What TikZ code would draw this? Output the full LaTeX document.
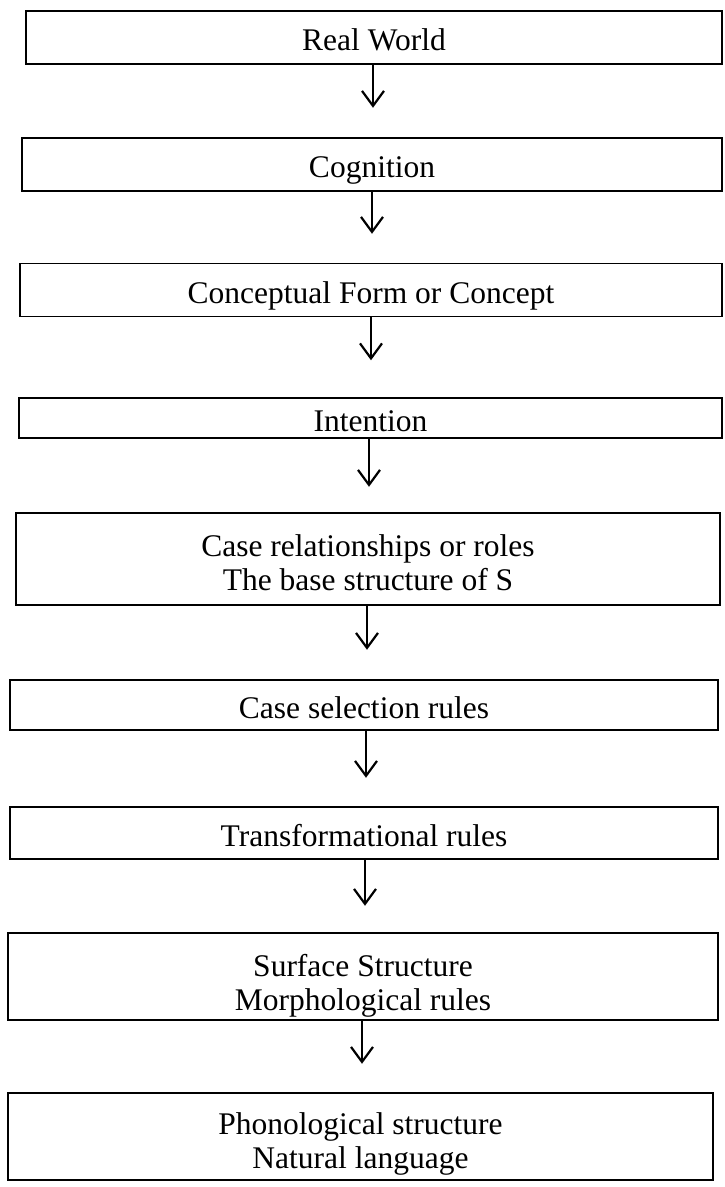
\documentclass[tikz,border=0pt]{standalone}
\usepackage{fontspec}
\setmainfont{Liberation Serif}
\usetikzlibrary{arrows.meta}
\newcommand{\topstrut}[1]{\rule{0pt}{#1}}
\tikzset{
  flowbox/.style={draw=black, line width=1.5pt, inner sep=0pt, align=center,
    font=\fontsize{31.5}{34}\selectfont, text depth=0pt},
  oneline/.style={flowbox, text height=26pt},
  flowarrow/.style={line width=2.2pt, -{Straight Barb[length=15pt,width=22pt,line width=2.2pt]}}
}
\begin{document}
\begin{tikzpicture}[x=1pt,y=-1pt]
\useasboundingbox (0,0) rectangle (724,1187);
\node[oneline, minimum width=696pt, minimum height=53pt] (n1) at (374,37.5) {Real World};
\node[oneline, minimum width=700pt, minimum height=53pt] (n2) at (372,164.5) {Cognition};
\node[oneline, minimum width=702pt, minimum height=53pt] (n3) at (371,290) {Conceptual Form or Concept};
\node[oneline, minimum width=703pt, minimum height=40pt] (n4) at (370.5,418) {Intention};
\node[flowbox, minimum width=704pt, minimum height=92pt] (n5) at (368,559) {\topstrut{28pt}Case relationships or roles\\The base structure of S};
\node[oneline, minimum width=708pt, minimum height=50pt] (n6) at (364,705) {Case selection rules};
\node[oneline, minimum width=708pt, minimum height=52pt] (n7) at (364,833) {Transformational rules};
\node[flowbox, minimum width=710pt, minimum height=87pt] (n8) at (363,976.5) {\topstrut{34pt}Surface Structure\\Morphological rules};
\node[flowbox, minimum width=705pt, minimum height=87pt] (n9) at (360.5,1136.5) {\topstrut{30pt}Phonological structure\\Natural language};
\draw[flowarrow] (n1.south -| 373,0) -- ++(0,43);
\draw[flowarrow] (n2.south -| 372,0) -- ++(0,42);
\draw[flowarrow] (n3.south -| 371,0) -- ++(0,43);
\draw[flowarrow] (n4.south -| 369,0) -- ++(0,48);
\draw[flowarrow] (n5.south -| 367,0) -- ++(0,44);
\draw[flowarrow] (n6.south -| 366,0) -- ++(0,47);
\draw[flowarrow] (n7.south -| 365,0) -- ++(0,46);
\draw[flowarrow] (n8.south -| 362,0) -- ++(0,43);
\end{tikzpicture}
\end{document}
